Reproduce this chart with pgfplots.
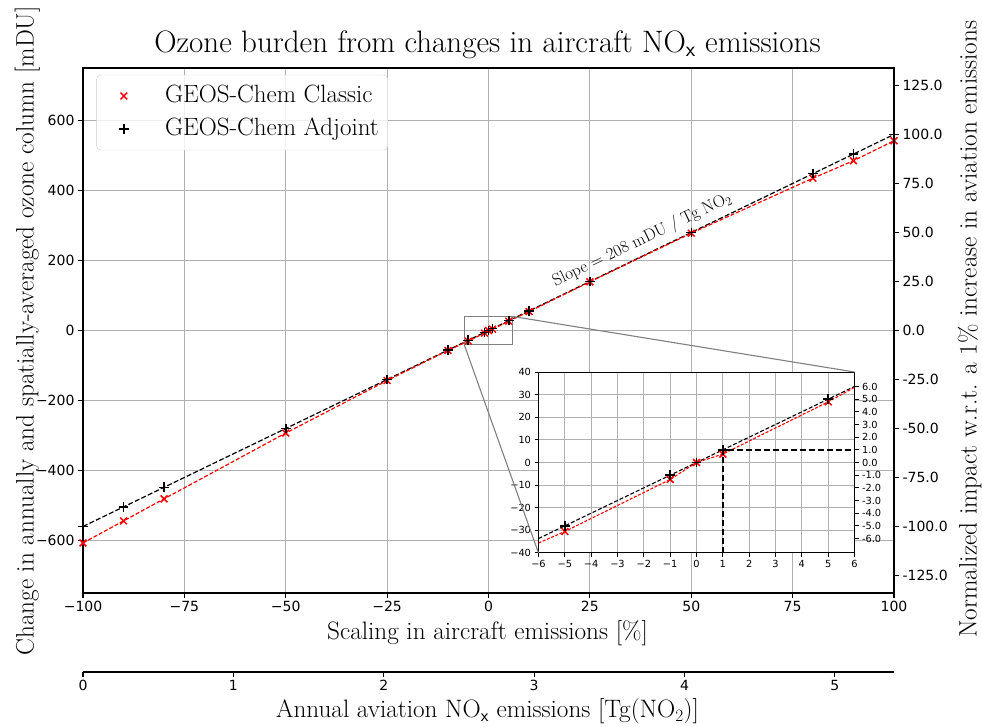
\documentclass[border=0pt]{standalone}
\usepackage{fontspec}
\usepackage{pgfplots}
\pgfplotsset{compat=1.18}
\newfontfamily\dv{DejaVu Sans}
\definecolor{gridc}{RGB}{176,176,176}
\definecolor{insetc}{RGB}{128,128,128}
\definecolor{legc}{RGB}{204,204,204}

\pgfplotstableread{
x y
-100 -607
-90 -544
-80 -481
-50 -293
-25 -143
-10 -57
-5 -30.5
-1 -7.5
0 0
1 3.7
5 26.8
10 54
25 139
50 278
80 435
90 485
100 542
}\classic

\pgfplotstableread{
x y
-100 -560
-90 -504
-80 -448
-50 -280
-25 -140
-10 -56
-5 -28
-1 -5.6
0 0
1 5.6
5 28
10 56
25 140
50 280
80 448
90 504
100 560
}\adjoint

\pgfplotsset{
  legimg/.style={legend image code/.code={\path (0pt,-4pt) (59pt,4pt); \draw[mark repeat=2,mark phase=2,##1] plot coordinates {(0pt,0pt) (21pt,0pt) (42pt,0pt)};}},
}

\begin{document}
\begin{tikzpicture}[x=1pt,y=1pt]
\useasboundingbox (-83pt,-134pt) rectangle (899pt,593pt);

% ---------- main axis ----------
\begin{axis}[name=main, at={(0pt,0pt)}, anchor=south west, scale only axis,
  width=811pt, height=525pt,
  xmin=-100, xmax=100, ymin=-750, ymax=750,
  xtick={-100,-75,...,100}, xticklabels={−100,−75,−50,−25,0,25,50,75,100},
  ytick={-600,-400,...,600}, yticklabels={−600,−400,−200,0,200,400,600},
  tick pos=left, tick align=outside, major tick length=5pt,
  tick style={black, line width=1.1pt},
  axis line style={line width=1.1pt},
  grid=major, grid style={gridc, line width=1pt},
  ticklabel style={font=\fontsize{14}{17}\dv},
  legend cell align=left,
  legend style={at={(0.0166,0.987)}, anchor=north west, draw=legc, fill=white,
    fill opacity=0.8, text opacity=1, rounded corners=4pt,
    font=\fontsize{25}{29}\selectfont, inner xsep=6pt, inner ysep=6.5pt,
    row sep=4pt, nodes={inner sep=3pt, text height=18pt, text depth=5pt}},
]
\addplot[black, line width=1.2pt, dash pattern=on 5pt off 2.2pt, forget plot] table {\adjoint};
\addplot[red, line width=1.2pt, dash pattern=on 4pt off 2pt, forget plot] table {\classic};
\addplot[red, only marks, mark=x, mark size=4.8pt, mark options={line width=1.5pt}, legimg] table {\classic};
\addlegendentry{GEOS-Chem Classic}
\addplot[black, only marks, mark=+, mark size=4.8pt, mark options={line width=1.5pt}, legimg] table {\adjoint};
\addlegendentry{GEOS-Chem Adjoint}
\draw[insetc, line width=1.1pt] (axis cs:-6,-40) rectangle (axis cs:6,40);
\coordinate (zbl) at (axis cs:-6,-40);
\coordinate (ztr) at (axis cs:6,40);
\node[rotate=25.8, anchor=south, font=\fontsize{17}{20}\selectfont, inner sep=6pt] at (axis cs:39.5,221.2) {Slope $=$ 208 mDU / Tg NO$_2$};
\end{axis}

% ---------- right twin axis ----------
\begin{axis}[at={(0pt,0pt)}, anchor=south west, scale only axis,
  width=811pt, height=525pt,
  xmin=-100, xmax=100, ymin=-133.93, ymax=133.93,
  hide x axis, axis y line*=right,
  ytick={-125,-100,...,125},
  yticklabels={-125.0,-100.0,-75.0,-50.0,-25.0,0.0,25.0,50.0,75.0,100.0,125.0},
  tick align=outside, major tick length=5pt,
  tick style={black, line width=1.1pt},
  axis line style={line width=1.1pt},
  ticklabel style={font=\fontsize{14}{17}\dv},
]
\end{axis}

% ---------- secondary bottom axis ----------
\begin{axis}[at={(0pt,-79pt)}, anchor=south west, scale only axis,
  width=811pt, height=10pt,
  xmin=0, xmax=5.393, ymin=0, ymax=1,
  axis x line*=bottom, hide y axis,
  xtick={0,1,2,3,4,5}, xticklabels={0,1,2,3,4,5},
  tick align=outside, major tick length=5pt,
  tick style={black, line width=1.1pt},
  axis line style={line width=1.1pt},
  ticklabel style={font=\fontsize{14}{17}\dv},
]
\end{axis}

% ---------- inset ----------
\begin{axis}[name=inset, at={(455.5pt,40pt)}, anchor=south west, scale only axis,
  width=316pt, height=181pt,
  xmin=-6, xmax=6, ymin=-40, ymax=40,
  axis background/.style={fill=white},
  xtick={-6,...,6}, xticklabels={−6,−5,−4,−3,−2,−1,0,1,2,3,4,5,6},
  ytick={-40,-30,...,40}, yticklabels={−40,−30,−20,−10,0,10,20,30,40},
  tick pos=left, tick align=outside, major tick length=4pt,
  tick style={black, line width=1pt},
  axis line style={line width=1pt},
  grid=major, grid style={gridc, line width=1pt},
  ticklabel style={font=\fontsize{9.8}{12}\dv},
]
\addplot[black, line width=1.1pt, dash pattern=on 4pt off 2pt] coordinates {(-6,-33.6) (-5,-28) (-1,-5.6) (0,0) (1,5.6) (5,28) (6,33.6)};
\addplot[red, line width=1.1pt, dash pattern=on 3pt off 1.6pt] coordinates {(-6,-35.6) (-5,-30.5) (-1,-7.5) (0,0) (1,3.7) (5,26.8) (6,33.2)};
\addplot[black, line width=1.8pt, dash pattern=on 6pt off 3pt] coordinates {(1,-40) (1,5.6) (6,5.6)};
\addplot[red, only marks, mark=x, mark size=4.8pt, mark options={line width=1.5pt}] coordinates {(-5,-30.5) (-1,-7.5) (0,0) (1,3.7) (5,26.8)};
\addplot[black, only marks, mark=+, mark size=4.8pt, mark options={line width=1.5pt}] coordinates {(-5,-28) (-1,-5.6) (0,0) (1,5.6) (5,28)};
\end{axis}
\begin{axis}[at={(455.5pt,40pt)}, anchor=south west, scale only axis,
  width=316pt, height=181pt,
  xmin=-6, xmax=6, ymin=-7.142857, ymax=7.142857,
  hide x axis, axis y line*=right,
  ytick={-6,...,6},
  yticklabels={-6.0,-5.0,-4.0,-3.0,-2.0,-1.0,0.0,1.0,2.0,3.0,4.0,5.0,6.0},
  tick align=outside, major tick length=4pt,
  tick style={black, line width=1pt},
  axis line style={line width=1pt},
  ticklabel style={font=\fontsize{9.8}{12}\dv},
]
\end{axis}
\draw[insetc, line width=1.1pt] (zbl) -- (inset.south west);
\draw[insetc, line width=1.1pt] (ztr) -- (inset.north east);

% ---------- titles and labels ----------
\node[anchor=base, font=\fontsize{31}{36}\selectfont] at (404.5pt,540pt) {Ozone burden from changes in aircraft NO$_{\mathsf{x}}$ emissions};
\node[anchor=base, font=\fontsize{25.2}{29}\selectfont] at (404.5pt,-47pt) {Scaling in aircraft emissions [\%]};
\node[anchor=base, font=\fontsize{25.2}{29}\selectfont] at (404.5pt,-125pt) {Annual aviation NO$_{\mathsf{x}}$ emissions [Tg(NO$_2$)]};
\node[anchor=base, rotate=90, font=\fontsize{25.2}{29}\selectfont] at (-49.5pt,262pt) {Change in annually and spatially-averaged ozone column [mDU]};
\node[anchor=base, rotate=90, font=\fontsize{25.2}{29}\selectfont] at (893.5pt,264pt) {Normalized impact w.r.t. a 1\% increase in aviation emissions};
\end{tikzpicture}
\end{document}
